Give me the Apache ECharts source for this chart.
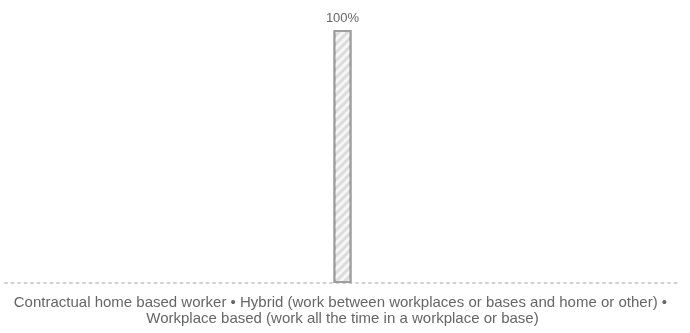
<!DOCTYPE html>
<html><head><meta charset="utf-8">
<script src="https://cdn.jsdelivr.net/npm/echarts@6/dist/echarts.min.js"></script>
<style>html,body{margin:0;padding:0;background:#fff}#c{width:690px;height:333px}</style>
</head><body><div id="c"></div>
<script>
const categories = ['Contractual home based worker \u2022 Hybrid (work between workplaces or bases and home or other) \u2022 Workplace based (work all the time in a workplace or base)'];
const values = [100];
const valueLabels = ['100%'];

const chart = echarts.init(document.getElementById('c'));
chart.setOption({
  animation: false,
  grid: { left: 5, right: 10, top: 30, bottom: 50, containLabel: false, outerBoundsMode: 'none' },
  xAxis: {
    type: 'category',
    data: categories,
    axisLine: { show: true, lineStyle: { color: '#d0d0d0', width: 2, type: [2, 4.5] } },
    axisTick: { show: false },
    axisLabel: {
      color: '#666666', fontFamily: 'Liberation Sans, Arial, sans-serif', fontSize: 15,
      width: 685, overflow: 'break', lineHeight: 16, margin: 12, interval: 0
    }
  },
  yAxis: { type: 'value', min: 0, max: 100, show: false, splitLine: { show: false } },
  series: [{
    type: 'bar',
    data: values,
    barWidth: 18,
    itemStyle: {
      color: '#dcdcdc',
      borderColor: '#9e9e9e',
      borderWidth: 2,
      decal: { symbol: 'rect', dashArrayX: [1, 0], dashArrayY: [3, 3], rotation: -Math.PI / 4, color: 'rgba(255,255,255,0.75)' }
    },
    label: {
      show: true, position: 'top', distance: 5,
      color: '#666666', fontFamily: 'Liberation Sans, Arial, sans-serif', fontSize: 13,
      formatter: p => valueLabels[p.dataIndex]
    }
  }]
});
</script></body></html>
